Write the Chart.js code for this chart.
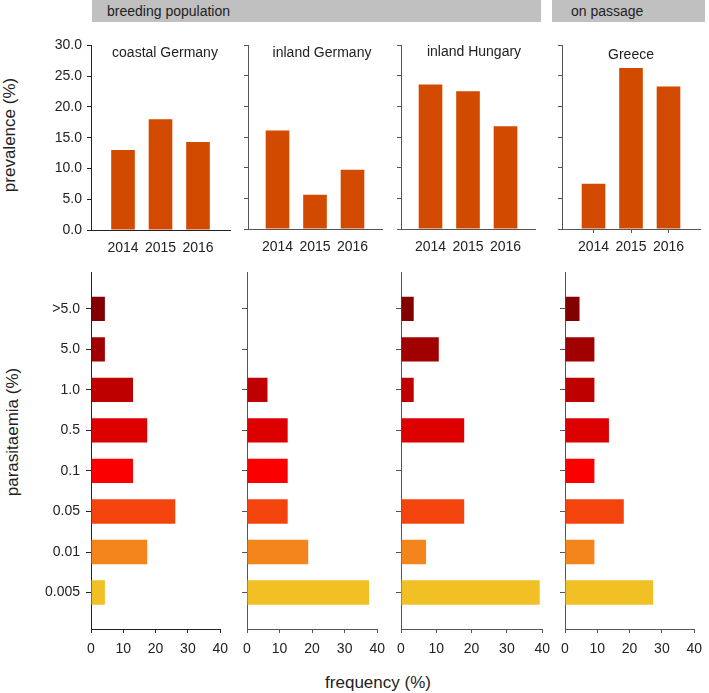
<!DOCTYPE html>
<html>
<head>
<meta charset="utf-8">
<script src="https://cdn.jsdelivr.net/npm/chart.js@4.4.0/dist/chart.umd.min.js"></script>
<style>
  body { margin: 0; width: 709px; height: 693px; background: #fff; position: relative; overflow: hidden;
         font-family: 'Liberation Sans', Arial, sans-serif; color: #222; }
  canvas { position: absolute; }
  .band { position: absolute; top: 0; height: 22px; background: #c0c0c0; }
  .band span { position: absolute; top: 3px; font-size: 14px; line-height: 16px; white-space: nowrap; }
  .txt { position: absolute; white-space: nowrap; transform: translate(-50%, -50%); line-height: 1.15; }
  .rot { transform: translate(-50%, -50%) rotate(-90deg); }
</style>
</head>
<body>
<div class="band" style="left:92px; width:449px;"><span style="left:15px;">breeding population</span></div>
<div class="band" style="left:552px; width:153px;"><span style="left:19px;">on passage</span></div>

<script>
// ---- data ----
const years = ['2014', '2015', '2016'];
const regions = ['coastal Germany', 'inland Germany', 'inland Hungary', 'Greece'];

// prevalence (%) per year
const prevCoastalGermany = [13.0, 18.0, 14.3];
const prevInlandGermany = [16.1, 5.6, 9.7];
const prevInlandHungary = [23.6, 22.5, 16.8];
const prevGreece = [7.4, 26.3, 23.3];

// parasitaemia classes, bottom to top
const levels = ['0.005', '0.01', '0.05', '0.1', '0.5', '1.0', '5.0', '>5.0'];
// frequency (%) per parasitaemia class
const freqCoastalGermany = [4.3, 17.4, 26.1, 13.0, 17.4, 13.0, 4.3, 4.3];
const freqInlandGermany = [37.5, 18.8, 12.5, 12.5, 12.5, 6.3, 0, 0];
const freqInlandHungary = [39.3, 7.1, 17.9, 0, 17.9, 3.6, 10.7, 3.6];
const freqGreece = [27.3, 9.1, 18.2, 9.1, 13.6, 9.1, 9.1, 4.5];

const levelColors = ['#f1c024', '#f4841c', '#f4440e', '#fa0000', '#dc0000', '#be0000', '#a00000', '#820000'];
const prevColor = '#d24a00';

// ---- layout ----
const Y_AXIS_W = 50, X_AXIS_H = 34, PAD_R = 14, PAD_T = 10;
const YEAR_STEP = 37.5; // px between year bars
const textColor = '#222';

const topBoxes = [
  { left: 91, right: 230, top: 42, bottom: 230, axis: '#222', labels: true, xTicks: false },
  { left: 248, right: 382, top: 42, bottom: 229, axis: '#555', labels: false, xTicks: false },
  { left: 401, right: 535, top: 42, bottom: 229, axis: '#555', labels: false, xTicks: false },
  { left: 562, right: 700, top: 42, bottom: 229, axis: '#555', labels: false, xTicks: true }
];
const bottomBoxes = [
  { left: 91, right: 222, top: 268, bottom: 629, axis: '#222', labels: true },
  { left: 247, right: 379, top: 268, bottom: 629, axis: '#555', labels: false },
  { left: 401, right: 544, top: 268, bottom: 629, axis: '#555', labels: false },
  { left: 565, right: 696, top: 268, bottom: 629, axis: '#555', labels: false }
];

Chart.defaults.font.family = "'Liberation Sans', Arial, sans-serif";
Chart.defaults.font.size = 14;
Chart.defaults.color = textColor;

function placeCanvas(box) {
  const c = document.createElement('canvas');
  const w = box.right - box.left + Y_AXIS_W + PAD_R;
  const h = box.bottom - box.top + PAD_T + X_AXIS_H;
  c.width = w;
  c.height = h;
  c.style.width = w + 'px';
  c.style.height = h + 'px';
  c.style.left = (box.left - Y_AXIS_W) + 'px';
  c.style.top = (box.top - PAD_T) + 'px';
  document.body.appendChild(c);
  return c;
}

function baseOptions() {
  return {
    responsive: false,
    animation: false,
    devicePixelRatio: 1,
    layout: { padding: { top: PAD_T, right: PAD_R, left: 0, bottom: 0 } },
    plugins: { legend: { display: false }, tooltip: { enabled: false } }
  };
}

function prevalenceChart(box, values) {
  const ctx = placeCanvas(box).getContext('2d');
  const half = (box.right - box.left) / 2 / YEAR_STEP;
  const opts = baseOptions();
  opts.scales = {
    x: {
      type: 'linear', offset: false, bounds: 'data', min: 2 - half, max: 2 + half,
      grid: { offset: false, drawOnChartArea: false, tickLength: 4,
              tickColor: box.xTicks ? box.axis : 'rgba(0,0,0,0)' },
      border: { color: box.axis },
      afterBuildTicks: s => { s.ticks = years.map((y, i) => ({ value: i + 1 })); },
      ticks: { callback: v => years[v - 1], autoSkip: false, maxRotation: 0, padding: 6 },
      afterFit: s => { s.height = X_AXIS_H; }
    },
    y: {
      min: 0, max: 30,
      grid: { drawOnChartArea: false, tickLength: 4, tickColor: box.axis },
      border: { color: box.axis },
      ticks: { stepSize: 5, padding: 5, callback: v => box.labels ? v.toFixed(1) : '' },
      afterFit: s => { s.width = Y_AXIS_W; }
    }
  };
  new Chart(ctx, {
    type: 'bar',
    data: {
      datasets: [{
        data: values.map((v, i) => ({ x: i + 1, y: v })),
        backgroundColor: prevColor,
        barPercentage: 0.63,
        categoryPercentage: 1
      }]
    },
    options: opts
  });
}

function frequencyChart(box, values) {
  const ctx = placeCanvas(box).getContext('2d');
  const opts = baseOptions();
  opts.indexAxis = 'y';
  opts.scales = {
    x: {
      type: 'linear', min: 0, max: 40,
      grid: { drawOnChartArea: false, tickLength: 4, tickColor: box.axis },
      border: { color: box.axis },
      ticks: { stepSize: 10, padding: 8, autoSkip: false, maxRotation: 0 },
      afterFit: s => { s.height = X_AXIS_H; }
    },
    y: {
      type: 'linear', offset: false, bounds: 'data', min: 0.1, max: 8.9,
      grid: { offset: false, drawOnChartArea: false, tickLength: 5, tickColor: box.axis },
      border: { color: box.axis },
      afterBuildTicks: s => { s.ticks = levels.map((l, i) => ({ value: i + 1 })); },
      ticks: { autoSkip: false, padding: 6, callback: v => box.labels ? levels[v - 1] : '' },
      afterFit: s => { s.width = Y_AXIS_W; }
    }
  };
  new Chart(ctx, {
    type: 'bar',
    data: {
      datasets: [{
        data: values.map((v, i) => ({ x: v, y: i + 1 })),
        backgroundColor: levelColors,
        barPercentage: 0.6,
        categoryPercentage: 1
      }]
    },
    options: opts
  });
}

[prevCoastalGermany, prevInlandGermany, prevInlandHungary, prevGreece]
  .forEach((vals, i) => prevalenceChart(topBoxes[i], vals));
[freqCoastalGermany, freqInlandGermany, freqInlandHungary, freqGreece]
  .forEach((vals, i) => frequencyChart(bottomBoxes[i], vals));

// ---- text ----
function addText(str, x, y, size, rotate) {
  const d = document.createElement('div');
  d.className = 'txt' + (rotate ? ' rot' : '');
  d.textContent = str;
  d.style.left = x + 'px';
  d.style.top = y + 'px';
  d.style.fontSize = size + 'px';
  document.body.appendChild(d);
}

const titlePos = [[165, 51.5], [322, 51.5], [474, 51], [631, 53.5]];
regions.forEach((r, i) => addText(r, titlePos[i][0], titlePos[i][1], 14));
addText('prevalence (%)', 10, 135, 17, true);
addText('parasitaemia (%)', 13, 431.5, 17, true);
addText('frequency (%)', 378, 683, 17);
</script>
</body>
</html>
